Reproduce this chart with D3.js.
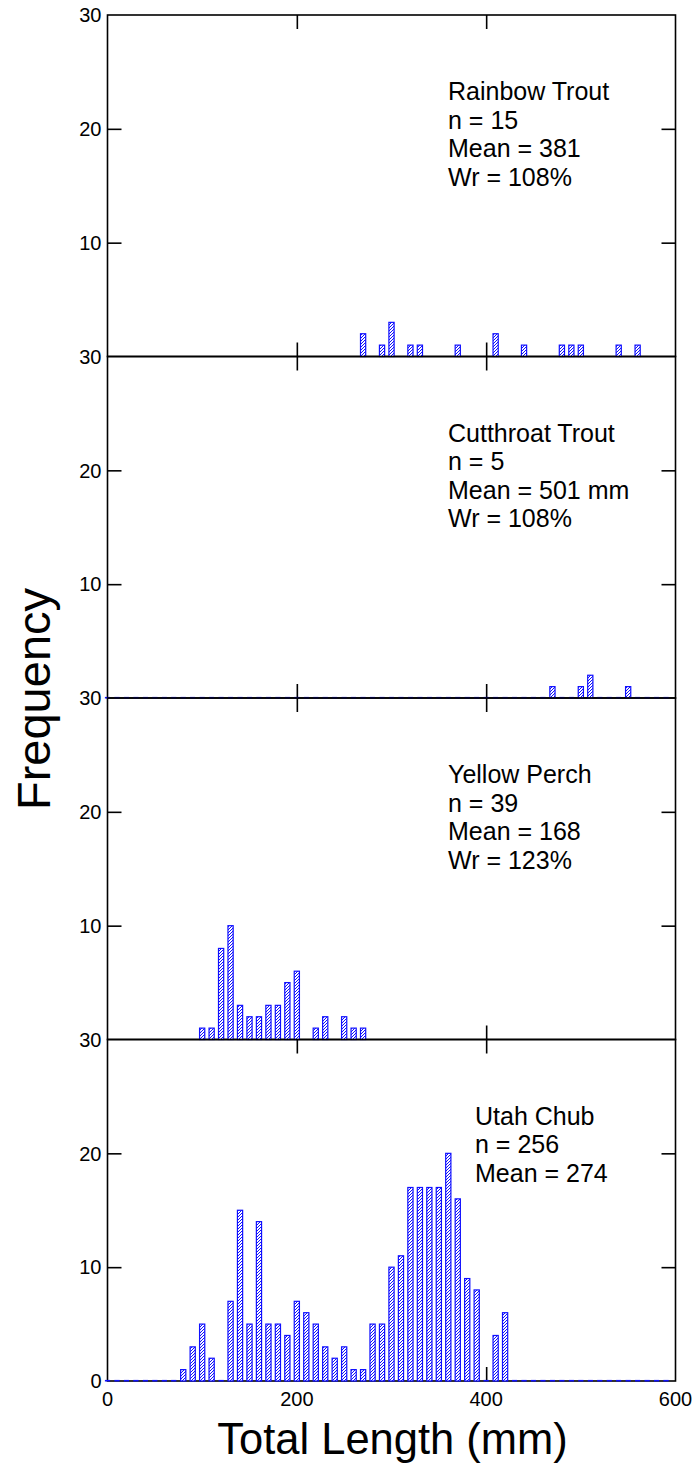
<!DOCTYPE html>
<html>
<head>
<meta charset="utf-8">
<script src="https://cdn.jsdelivr.net/npm/d3@7"></script>
<style>
  html, body { margin: 0; padding: 0; background: #fff; }
  svg { display: block; font-family: "Liberation Sans", Arial, sans-serif; }
</style>
</head>
<body>
<svg id="chart" width="696" height="1466"></svg>
<script>
// ---------- DATA ----------
const bins = [0,10,20,30,40,50,60,70,80,90,100,110,120,130,140,150,160,170,180,190,
              200,210,220,230,240,250,260,270,280,290,300,310,320,330,340,350,360,370,380,390,
              400,410,420,430,440,450,460,470,480,490,500,510,520,530,540,550,560,570,580,590];

const rainbowLengths = [270,290,300,320,330,370,410,440,480,490,500,540,560];
const rainbowCounts  = [2,  1,  3,  1,  1,  1,  2,  1,  1,  1,  1,  1,  1];

const cutthroatLengths = [470,500,510,550];
const cutthroatCounts  = [1,  1,  2,  1];

const perchLengths = [100,110,120,130,140,150,160,170,180,190,200,220,230,250,260,270];
const perchCounts  = [1,  1,  8,  10, 3,  2,  2,  3,  3,  5,  6,  1,  2,  2,  1,  1];

const chubLengths = [80,90,100,110,130,140,150,160,170,180,190,200,210,220,230,240,250,260,270,
                     280,290,300,310,320,330,340,350,360,370,380,390,410,420];
const chubCounts  = [1, 3, 5,  2,  7,  15, 5,  14, 5,  5,  4,  7,  6,  5,  3,  2,  3,  1,  1,
                     5, 5, 10, 11, 17, 17, 17, 17, 20, 16, 9,  8,  4,  6];

const rainbowLabels   = ["Rainbow Trout", "n = 15", "Mean = 381", "Wr = 108%"];
const cutthroatLabels = ["Cutthroat Trout", "n = 5", "Mean = 501 mm", "Wr = 108%"];
const perchLabels     = ["Yellow Perch", "n = 39", "Mean = 168", "Wr = 123%"];
const chubLabels      = ["Utah Chub", "n = 256", "Mean = 274"];

const xTicks = [0, 200, 400, 600];
const yTicks = [0, 10, 20, 30];
const xTitle = "Total Length (mm)";
const yTitle = "Frequency";

const panels = [
  { lengths: rainbowLengths,   counts: rainbowCounts,   labels: rainbowLabels,   zeros: false, labelX: 448 },
  { lengths: cutthroatLengths, counts: cutthroatCounts, labels: cutthroatLabels, zeros: true,  labelX: 448 },
  { lengths: perchLengths,     counts: perchCounts,     labels: perchLabels,     zeros: false, labelX: 448 },
  { lengths: chubLengths,      counts: chubCounts,      labels: chubLabels,      zeros: true,  labelX: 475 }
];

// ---------- LAYOUT ----------
const plotLeft = 107.5, plotRight = 675.5, plotTop = 15, panelH = 341.5;
const barW = 5.2, tickLen = 14;
const blue = "#1010ff";

const svg = d3.select("#chart");
const defs = svg.append("defs");
const pat = defs.append("pattern")
  .attr("id", "hatch")
  .attr("patternUnits", "userSpaceOnUse")
  .attr("width", 3).attr("height", 3);
pat.append("rect").attr("width", 3).attr("height", 3).attr("fill", "#fff");
pat.append("path")
  .attr("d", "M-1,1 l2,-2 M0,3 l3,-3 M2,4 l2,-2")
  .attr("stroke", blue).attr("stroke-width", 1);

const x = d3.scaleLinear().domain([0, 600]).range([plotLeft, plotRight]);

panels.forEach((p, i) => {
  const y0 = plotTop + i * panelH;
  const y = d3.scaleLinear().domain([0, 30]).range([y0 + panelH, y0]);
  const g = svg.append("g");

  // frame
  g.append("rect")
    .attr("x", plotLeft).attr("y", y0)
    .attr("width", plotRight - plotLeft).attr("height", panelH)
    .attr("fill", "none").attr("stroke", "#000").attr("stroke-width", 1.6);

  // axes with inward ticks
  const axL = d3.axisRight(y).tickValues([10, 20]).tickSize(tickLen).tickFormat("");
  const axR = d3.axisLeft(y).tickValues([10, 20]).tickSize(tickLen).tickFormat("");
  const axB = d3.axisTop(x).tickValues([200, 400]).tickSize(tickLen).tickFormat("");
  const axT = d3.axisBottom(x).tickValues([200, 400]).tickSize(tickLen).tickFormat("");
  [[axL, `translate(${plotLeft},0)`], [axR, `translate(${plotRight},0)`],
   [axB, `translate(0,${y0 + panelH})`], [axT, `translate(0,${y0})`]].forEach(([ax, tr]) => {
    const a = g.append("g").attr("transform", tr).call(ax);
    a.select(".domain").remove();
    a.selectAll("line").attr("stroke", "#000").attr("stroke-width", 1.6);
  });

  // y tick labels
  const labs = i === panels.length - 1 ? yTicks : yTicks.filter(v => v > 0);
  g.selectAll("text.ylab").data(labs).join("text")
    .attr("class", "ylab")
    .attr("x", plotLeft - 6).attr("y", d => y(d))
    .attr("dy", "0.36em")
    .attr("text-anchor", "end")
    .attr("font-size", 20)
    .text(d => d);

  // zero bins
  if (p.zeros) {
    const zeroBins = bins.filter(b => !p.lengths.includes(b));
    g.selectAll("line.zero").data(zeroBins).join("line")
      .attr("class", "zero")
      .attr("x1", d => x(d) - barW / 2).attr("x2", d => x(d) + barW / 2)
      .attr("y1", y(0) - 0.3).attr("y2", y(0) - 0.3)
      .attr("stroke", blue).attr("stroke-width", 1.6);
  }

  // bars
  const data = p.lengths.map((l, k) => ({ l, c: p.counts[k] }));
  g.selectAll("rect.bar").data(data).join("rect")
    .attr("class", "bar")
    .attr("x", d => x(d.l) - barW / 2)
    .attr("y", d => y(d.c))
    .attr("width", barW)
    .attr("height", d => y(0) - y(d.c))
    .attr("fill", "url(#hatch)")
    .attr("stroke", blue).attr("stroke-width", 1.2);

  // annotation
  p.labels.forEach((s, k) => {
    g.append("text")
      .attr("x", p.labelX).attr("y", y0 + 85 + k * 28.5)
      .attr("font-size", 25).attr("fill", "#000")
      .text(s);
  });
});

// x tick labels
const yBottom = plotTop + panels.length * panelH;
svg.selectAll("text.xlab").data(xTicks).join("text")
  .attr("class", "xlab")
  .attr("x", d => x(d)).attr("y", yBottom + 25)
  .attr("text-anchor", "middle")
  .attr("font-size", 20)
  .text(d => d);

// axis titles
svg.append("text")
  .attr("x", (plotLeft + plotRight) / 2 + 1).attr("y", yBottom + 73)
  .attr("text-anchor", "middle")
  .attr("font-size", 43.5)
  .text(xTitle);

svg.append("text")
  .attr("transform", `translate(50, ${plotTop + 2 * panelH + 1}) rotate(-90)`)
  .attr("text-anchor", "middle")
  .attr("font-size", 47)
  .text(yTitle);
</script>
</body>
</html>
